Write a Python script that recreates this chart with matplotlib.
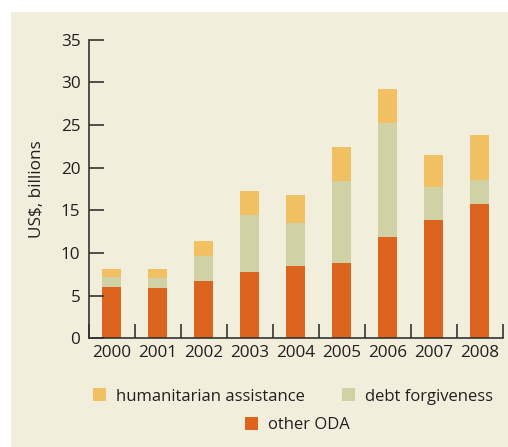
import matplotlib.pyplot as plt
from matplotlib.patches import Rectangle
import numpy as np

plt.rcParams['font.family'] = ['Open Sans', 'DejaVu Sans']

years = ["2000", "2001", "2002", "2003", "2004", "2005", "2006", "2007", "2008"]
other_oda = [6.0, 5.9, 6.7, 7.8, 8.5, 8.8, 11.9, 13.9, 15.7]
debt_forgiveness = [1.2, 1.2, 3.0, 6.6, 5.0, 9.6, 13.3, 3.8, 2.9]
humanitarian = [0.9, 1.0, 1.7, 2.9, 3.3, 4.0, 4.0, 3.8, 5.2]

c_oda = "#dc641e"
c_debt = "#d0d1a4"
c_hum = "#f1c063"
bg = "#f1eedc"
ink = "#333333"
txt = "#231f20"

fig = plt.figure(figsize=(5.08, 4.47), dpi=100)
fig.patch.set_facecolor("white")
fig.patches.append(Rectangle((11 / 508, 0), 1, 1 - 12 / 447, transform=fig.transFigure,
                             facecolor=bg, edgecolor="none", zorder=-10))

ax = fig.add_axes([0.1746, 0.2432, 0.815, 0.668])
ax.set_facecolor("none")

x = np.arange(len(years))
w = 0.41
b1 = ax.bar(x, other_oda, w, color=c_oda, label="other ODA")
b2 = ax.bar(x, debt_forgiveness, w, bottom=other_oda, color=c_debt, label="debt forgiveness")
base = np.array(other_oda) + np.array(debt_forgiveness)
b3 = ax.bar(x, humanitarian, w, bottom=base, color=c_hum, label="humanitarian assistance")

ax.set_xlim(-0.5, len(years) - 0.5)
ax.set_ylim(0, 35)
ax.set_yticks(range(0, 36, 5))

# category boundaries carry the x ticks, labels sit under bar centres
ax.set_xticks(np.arange(-0.5, len(years), 1.0))
ax.set_xticklabels([])
ax.set_xticks(x, minor=True)
ax.set_xticklabels(years, minor=True)
ax.tick_params(axis="x", which="major", direction="in", length=10, width=1.2, color=ink)
ax.tick_params(axis="x", which="minor", length=0, pad=5, labelsize=12.3, labelcolor=txt)
ax.tick_params(axis="y", direction="in", length=11, width=1.2, color=ink,
               labelsize=12.3, labelcolor=txt, pad=6)

for s in ["top", "right"]:
    ax.spines[s].set_visible(False)
for s in ["left", "bottom"]:
    ax.spines[s].set_color(ink)
    ax.spines[s].set_linewidth(1.2)

ax.set_ylabel("US$, billions", fontsize=12.3, color=txt, labelpad=11)

fig.legend(handles=[b3, b2], loc="center", bbox_to_anchor=(0.577, 0.113), ncol=2,
           frameon=False, fontsize=12, handlelength=0.8, handleheight=0.8,
           handletextpad=0.6, columnspacing=2.2, labelcolor=txt)
fig.legend(handles=[b1], loc="center", bbox_to_anchor=(0.585, 0.049),
           frameon=False, fontsize=12, handlelength=0.8, handleheight=0.8,
           handletextpad=0.6, labelcolor=txt)

fig.savefig("out.png", dpi=100, facecolor=fig.get_facecolor())
